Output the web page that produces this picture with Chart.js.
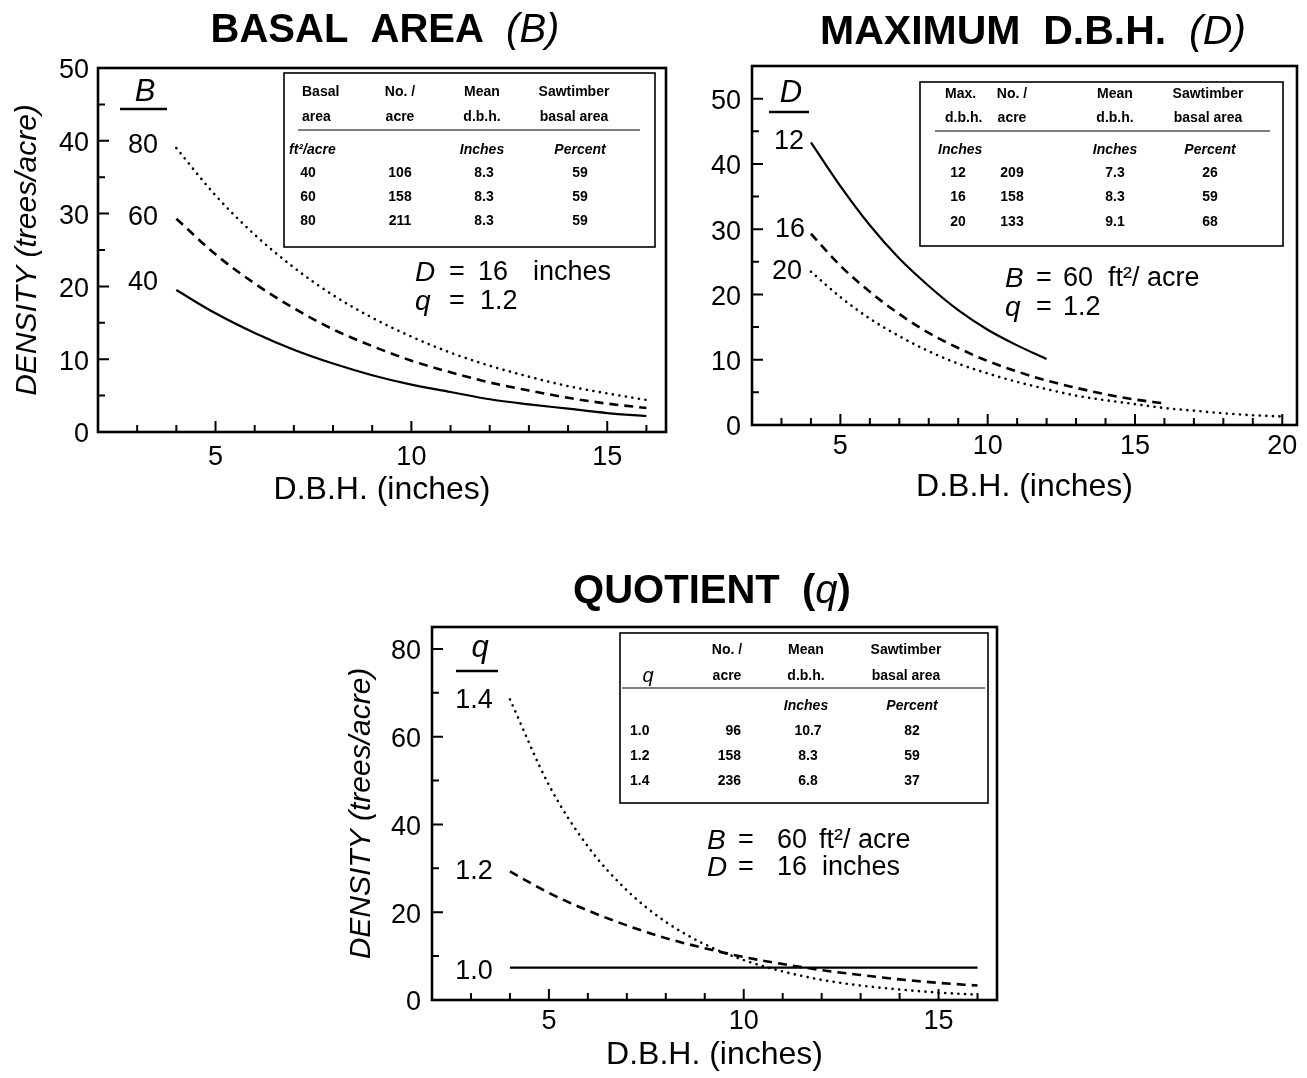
<!DOCTYPE html>
<html>
<head>
<meta charset="utf-8">
<script src="https://cdn.jsdelivr.net/npm/chart.js@4.4.0/dist/chart.umd.min.js"></script>
<style>
  body { margin: 0; background: #fff; }
  #wrap { position: relative; width: 1307px; height: 1078px; }
  canvas { position: absolute; }
</style>
</head>
<body>
<div id="wrap">
  <canvas id="c1" width="690" height="520" style="left:0;top:0"></canvas>
  <canvas id="c2" width="617" height="520" style="left:690px;top:0"></canvas>
  <canvas id="c3" width="690" height="518" style="left:330px;top:560px"></canvas>
</div>
<script>
// ---- data ----
const dbh4to16 = [4, 5, 6, 7, 8, 9, 10, 11, 12, 13, 14, 15, 16];
const dbh4to12 = [4, 5, 6, 7, 8, 9, 10, 11, 12];
const dbh4to20 = [4, 5, 6, 7, 8, 9, 10, 11, 12, 13, 14, 15, 16, 17, 18, 19, 20];

// basal area panel (D = 16, q = 1.2)
const densB40 = [19.5, 16.3, 13.6, 11.3, 9.4, 7.8, 6.5, 5.5, 4.5, 3.8, 3.2, 2.6, 2.2];
const densB60 = [29.3, 24.4, 20.4, 17.0, 14.1, 11.8, 9.8, 8.2, 6.8, 5.7, 4.7, 3.9, 3.3];
const densB80 = [39.0, 32.5, 27.1, 22.6, 18.8, 15.7, 13.1, 10.9, 9.1, 7.6, 6.3, 5.3, 4.4];

// maximum d.b.h. panel (B = 60, q = 1.2)
const densD12 = [43.3, 36.6, 30.6, 25.5, 21.3, 17.6, 14.6, 12.2, 10.1];
const densD16 = [29.3, 24.4, 20.4, 17.0, 14.1, 11.8, 9.8, 8.2, 6.8, 5.7, 4.7, 3.9, 3.3];
const densD20 = [23.5, 19.6, 16.3, 13.6, 11.3, 9.4, 7.9, 6.6, 5.5, 4.5, 3.8, 3.2, 2.6, 2.2, 1.8, 1.5, 1.3];

// quotient panel (B = 60, D = 16)
const densQ10 = [7.4, 7.4, 7.4, 7.4, 7.4, 7.4, 7.4, 7.4, 7.4, 7.4, 7.4, 7.4, 7.4];
const densQ12 = [29.3, 24.4, 20.4, 17.0, 14.1, 11.8, 9.8, 8.2, 6.8, 5.7, 4.7, 3.9, 3.3];
const densQ14 = [68.5, 49.0, 35.0, 25.0, 17.8, 12.7, 9.1, 6.5, 4.6, 3.3, 2.4, 1.7, 1.2];

// tick positions (labelled ones are the multiples of the major step)
const xTicks16 = [3, 4, 5, 6, 7, 8, 9, 10, 11, 12, 13, 14, 15, 16];
const xTicks20 = [3, 4, 5, 6, 7, 8, 9, 10, 11, 12, 13, 14, 15, 16, 17, 18, 19, 20];
const yTicks50 = [0, 5, 10, 15, 20, 25, 30, 35, 40, 45, 50];
const yTicks55 = [0, 5, 10, 15, 20, 25, 30, 35, 40, 45, 50];
const yTicks85 = [0, 10, 20, 30, 40, 50, 60, 70, 80];

// inset tables
const basalHead = [['Basal', 'No. /', 'Mean', 'Sawtimber'], ['area', 'acre', 'd.b.h.', 'basal area']];
const basalUnits = ['ft²/acre', '', 'Inches', 'Percent'];
const basalRows = [['40', '106', '8.3', '59'], ['60', '158', '8.3', '59'], ['80', '211', '8.3', '59']];

const maxHead = [['Max.', 'No. /', 'Mean', 'Sawtimber'], ['d.b.h.', 'acre', 'd.b.h.', 'basal area']];
const maxUnits = ['Inches', '', 'Inches', 'Percent'];
const maxRows = [['12', '209', '7.3', '26'], ['16', '158', '8.3', '59'], ['20', '133', '9.1', '68']];

const qHead = [['', 'No. /', 'Mean', 'Sawtimber'], ['q', 'acre', 'd.b.h.', 'basal area']];
const qUnits = ['', '', 'Inches', 'Percent'];
const qRows = [['1.0', '96', '10.7', '82'], ['1.2', '158', '8.3', '59'], ['1.4', '236', '6.8', '37']];

const FF = "'Liberation Sans', Arial, Helvetica, sans-serif";
Chart.defaults.font.family = FF;
Chart.defaults.color = '#000';

const SOLID = { borderDash: [], borderWidth: 2.2 };
const DASH = { borderDash: [9, 6], borderWidth: 2.6 };
const DOT = { borderDash: [0.1, 6.5], borderWidth: 2.6, borderCapStyle: 'round' };

function pts(xs, ys) {
  return xs.map((x, i) => ({ x: x, y: ys[i] }));
}

function drawParts(ctx, parts, y) {
  parts.forEach(p => {
    ctx.font = p.font;
    ctx.textAlign = p.align || 'left';
    ctx.fillText(p.t, p.x, y);
  });
}

// everything that is not a data mark: frame, inward ticks, titles, labels, tables
const decor = {
  id: 'decor',
  afterDraw(chart, args, o) {
    const ctx = chart.ctx, a = chart.chartArea;
    const xs = chart.scales.x, ys = chart.scales.y;
    ctx.save();
    ctx.strokeStyle = '#000';
    ctx.fillStyle = '#000';
    ctx.textBaseline = 'middle';

    // tick marks pointing inside the plot
    ctx.lineWidth = 2;
    ctx.beginPath();
    xs.ticks.forEach(t => {
      const v = t.value;
      if (v <= xs.min || v >= xs.max) return;
      const p = xs.getPixelForValue(v);
      const len = v % 5 === 0 ? 11 : 7;
      ctx.moveTo(p, a.bottom); ctx.lineTo(p, a.bottom - len);
    });
    ys.ticks.forEach(t => {
      const v = t.value;
      if (v <= ys.min || v >= ys.max) return;
      const p = ys.getPixelForValue(v);
      const len = v % o.yMajor === 0 ? 11 : 7;
      ctx.moveTo(a.left, p); ctx.lineTo(a.left + len, p);
    });
    ctx.stroke();

    ctx.lineWidth = 2.6;
    ctx.strokeRect(a.left, a.top, a.right - a.left, a.bottom - a.top);

    // panel title
    let w = 0;
    o.title.parts.forEach(p => { ctx.font = p.font; w += ctx.measureText(p.t).width; });
    let x = o.title.x - w / 2;
    ctx.textAlign = 'left';
    o.title.parts.forEach(p => {
      ctx.font = p.font;
      ctx.fillText(p.t, x, o.title.y);
      x += ctx.measureText(p.t).width;
    });

    // underlined symbol and curve labels
    ctx.font = 'italic 31px ' + FF;
    ctx.textAlign = 'center';
    ctx.fillText(o.sym.t, o.sym.x, o.sym.y);
    ctx.lineWidth = 2.4;
    ctx.beginPath();
    ctx.moveTo(o.sym.ul[0], o.sym.ul[2]); ctx.lineTo(o.sym.ul[1], o.sym.ul[2]);
    ctx.stroke();
    ctx.font = '27px ' + FF;
    o.curveLabels.forEach(l => ctx.fillText(l.t, l.x, l.y));

    // parameter notes
    o.notes.forEach(n => drawParts(ctx, n.parts, n.y));

    // inset table
    const tb = o.table;
    ctx.lineWidth = 1.6;
    ctx.strokeRect(tb.box[0], tb.box[1], tb.box[2], tb.box[3]);
    ctx.lineWidth = 1.2;
    ctx.beginPath();
    ctx.moveTo(tb.sep[0], tb.sep[2]); ctx.lineTo(tb.sep[1], tb.sep[2]);
    ctx.stroke();
    const hf = 'bold 14px ' + FF, uf = 'italic bold 14px ' + FF;
    tb.head.forEach((row, r) => row.forEach((t, c) => {
      if (!t) return;
      ctx.font = (t === 'q') ? 'italic 20px ' + FF : hf;
      ctx.textAlign = tb.headCols[c].a;
      ctx.fillText(t, tb.headCols[c].x, tb.headY[r]);
    }));
    tb.units.forEach((t, c) => {
      if (!t) return;
      ctx.font = uf;
      ctx.textAlign = tb.unitCols[c].a;
      ctx.fillText(t, tb.unitCols[c].x, tb.unitY);
    });
    tb.rows.forEach((row, r) => row.forEach((t, c) => {
      ctx.font = hf;
      ctx.textAlign = tb.rowCols[c].a;
      ctx.fillText(t, tb.rowCols[c].x, tb.rowY[r]);
    }));
    ctx.restore();
  }
};
Chart.register(decor);

function makeChart(id, cfg) {
  return new Chart(document.getElementById(id), {
    type: 'line',
    data: {
      datasets: cfg.series.map(s => Object.assign({
        data: pts(s.x, s.y),
        borderColor: '#000',
        pointRadius: 0,
        fill: false,
        cubicInterpolationMode: 'monotone'
      }, s.style))
    },
    options: {
      responsive: false,
      animation: false,
      events: [],
      layout: { padding: cfg.pad },
      plugins: { legend: { display: false }, tooltip: { enabled: false }, decor: cfg.decor },
      scales: {
        x: {
          type: 'linear', min: cfg.xMin, max: cfg.xMax,
          grid: { display: false, drawTicks: false }, border: { display: false },
          ticks: {
            autoSkip: false, maxRotation: 0, padding: cfg.xTickPad,
            font: { size: 27 },
            callback: v => (v % 5 === 0 ? v : '')
          },
          afterBuildTicks: s => { s.ticks = cfg.xTicks.map(v => ({ value: v })); },
          title: { display: true, text: 'D.B.H. (inches)', font: { size: 32, lineHeight: 1.2 },
                   padding: { top: 0, bottom: cfg.xTitlePad } },
          afterFit: s => { s.height = cfg.xH; }
        },
        y: {
          min: 0, max: cfg.yMax,
          grid: { display: false, drawTicks: false }, border: { display: false },
          ticks: {
            autoSkip: false, padding: cfg.yTickPad, labelOffset: 3,
            font: { size: 27 },
            callback: v => (v % cfg.decor.yMajor === 0 ? v : '')
          },
          afterBuildTicks: s => { s.ticks = cfg.yTicks.map(v => ({ value: v })); },
          title: { display: cfg.yTitle, text: 'DENSITY (trees/acre)',
                   font: { size: 30, style: 'italic', lineHeight: 1.2 },
                   padding: { top: cfg.yTitlePad, bottom: 0 } },
          afterFit: s => { s.width = cfg.yW; }
        }
      }
    }
  });
}

const big = '27px ' + FF, bigI = 'italic 28px ' + FF;

// ---- BASAL AREA ----
makeChart('c1', {
  xMin: 2, xMax: 16.5, yMax: 50, xTicks: xTicks16, yTicks: yTicks50,
  pad: { top: 68, right: 24, left: 0, bottom: 0 },
  yW: 98, xH: 88, xTickPad: 9, xTitlePad: 11, yTickPad: 9, yTitle: true, yTitlePad: 10,
  series: [
    { x: dbh4to16, y: densB40, style: SOLID },
    { x: dbh4to16, y: densB60, style: DASH },
    { x: dbh4to16, y: densB80, style: DOT }
  ],
  decor: {
    yMajor: 10,
    title: { x: 385, y: 31, parts: [{ t: 'BASAL  AREA  ', font: 'bold 40px ' + FF }, { t: '(B)', font: 'italic 40px ' + FF }] },
    sym: { t: 'B', x: 145, y: 92, ul: [120, 167, 109] },
    curveLabels: [{ t: '80', x: 143, y: 146 }, { t: '60', x: 143, y: 218 }, { t: '40', x: 143, y: 283 }],
    notes: [
      { y: 273, parts: [{ t: 'D', x: 415, font: bigI }, { t: '=', x: 449, font: big }, { t: '16', x: 478, font: big }, { t: 'inches', x: 533, font: big }] },
      { y: 302, parts: [{ t: 'q', x: 415, font: bigI }, { t: '=', x: 449, font: big }, { t: '1.2', x: 480, font: big }] }
    ],
    table: {
      box: [284, 73, 371, 174], sep: [298, 640, 130],
      head: basalHead, units: basalUnits, rows: basalRows,
      headY: [92, 117], unitY: 150, rowY: [173, 197, 221],
      headCols: [{ x: 302, a: 'left' }, { x: 400, a: 'center' }, { x: 482, a: 'center' }, { x: 574, a: 'center' }],
      unitCols: [{ x: 289, a: 'left' }, { x: 400, a: 'center' }, { x: 482, a: 'center' }, { x: 580, a: 'center' }],
      rowCols: [{ x: 308, a: 'center' }, { x: 400, a: 'center' }, { x: 484, a: 'center' }, { x: 580, a: 'center' }]
    }
  }
});

// ---- MAXIMUM D.B.H. ----
makeChart('c2', {
  xMin: 2, xMax: 20.5, yMax: 55, xTicks: xTicks20, yTicks: yTicks55,
  pad: { top: 66, right: 10, left: 0, bottom: 0 },
  yW: 62, xH: 95, xTickPad: 5, xTitlePad: 14, yTickPad: 11, yTitle: false, yTitlePad: 0,
  series: [
    { x: dbh4to12, y: densD12, style: SOLID },
    { x: dbh4to16, y: densD16, style: DASH },
    { x: dbh4to20, y: densD20, style: DOT }
  ],
  decor: {
    yMajor: 10,
    title: { x: 343, y: 33, parts: [{ t: 'MAXIMUM  D.B.H.  ', font: 'bold 41px ' + FF }, { t: '(D)', font: 'italic 41px ' + FF }] },
    sym: { t: 'D', x: 101, y: 93, ul: [79, 119, 112] },
    curveLabels: [{ t: '12', x: 99, y: 142 }, { t: '16', x: 100, y: 230 }, { t: '20', x: 97, y: 272 }],
    notes: [
      { y: 279, parts: [{ t: 'B', x: 315, font: bigI }, { t: '=', x: 346, font: big }, { t: '60', x: 373, font: big }, { t: 'ft²/ acre', x: 418, font: big }] },
      { y: 308, parts: [{ t: 'q', x: 315, font: bigI }, { t: '=', x: 346, font: big }, { t: '1.2', x: 373, font: big }] }
    ],
    table: {
      box: [230, 82, 363, 164], sep: [245, 580, 131],
      head: maxHead, units: maxUnits, rows: maxRows,
      headY: [94, 118], unitY: 150, rowY: [173, 197, 222],
      headCols: [{ x: 255, a: 'left' }, { x: 322, a: 'center' }, { x: 425, a: 'center' }, { x: 518, a: 'center' }],
      unitCols: [{ x: 248, a: 'left' }, { x: 322, a: 'center' }, { x: 425, a: 'center' }, { x: 520, a: 'center' }],
      rowCols: [{ x: 268, a: 'center' }, { x: 322, a: 'center' }, { x: 425, a: 'center' }, { x: 520, a: 'center' }]
    }
  }
});

// ---- QUOTIENT ----
makeChart('c3', {
  xMin: 2, xMax: 16.5, yMax: 85, xTicks: xTicks16, yTicks: yTicks85,
  pad: { top: 67, right: 23, left: 0, bottom: 0 },
  yW: 102, xH: 78, xTickPad: 5, xTitlePad: 4, yTickPad: 11, yTitle: true, yTitlePad: 14,
  series: [
    { x: dbh4to16, y: densQ10, style: SOLID },
    { x: dbh4to16, y: densQ12, style: DASH },
    { x: dbh4to16, y: densQ14, style: DOT }
  ],
  decor: {
    yMajor: 20,
    title: { x: 382, y: 32, parts: [{ t: 'QUOTIENT  (', font: 'bold 40px ' + FF }, { t: 'q', font: 'italic 40px ' + FF }, { t: ')', font: 'bold 40px ' + FF }] },
    sym: { t: 'q', x: 150, y: 88, ul: [126, 168, 111] },
    curveLabels: [{ t: '1.4', x: 144, y: 141 }, { t: '1.2', x: 144, y: 312 }, { t: '1.0', x: 144, y: 412 }],
    notes: [
      { y: 281, parts: [{ t: 'B', x: 377, font: bigI }, { t: '=', x: 408, font: big }, { t: '60', x: 447, font: big }, { t: 'ft²/ acre', x: 489, font: big }] },
      { y: 308, parts: [{ t: 'D', x: 377, font: bigI }, { t: '=', x: 408, font: big }, { t: '16', x: 447, font: big }, { t: 'inches', x: 492, font: big }] }
    ],
    table: {
      box: [290, 73, 368, 170], sep: [292, 655, 128],
      head: qHead, units: qUnits, rows: qRows,
      headY: [90, 116], unitY: 146, rowY: [171, 196, 221],
      headCols: [{ x: 318, a: 'center' }, { x: 397, a: 'center' }, { x: 476, a: 'center' }, { x: 576, a: 'center' }],
      unitCols: [{ x: 300, a: 'left' }, { x: 397, a: 'center' }, { x: 476, a: 'center' }, { x: 582, a: 'center' }],
      rowCols: [{ x: 300, a: 'left' }, { x: 411, a: 'right' }, { x: 478, a: 'center' }, { x: 582, a: 'center' }]
    }
  }
});
</script>
</body>
</html>
